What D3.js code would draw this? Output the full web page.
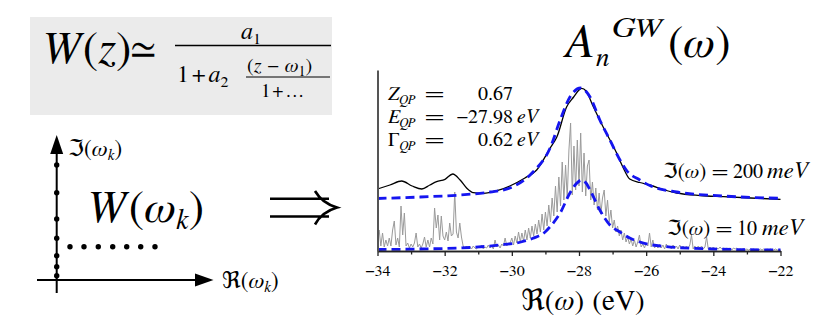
<!DOCTYPE html>
<html><head><meta charset="utf-8">
<script src="https://cdn.jsdelivr.net/npm/d3@7/dist/d3.min.js"></script>
</head><body style="margin:0">
<script>
// ---------- data ----------
const xMajorTicks = [-34, -32, -30, -28, -26, -24, -22];
const xMinorTicks = [-33, -31, -29, -27, -25, -23];
// A(omega) with Im(omega)=200 meV (black), arbitrary units
const spec200 = [[-34.00,62],[-33.63,66],[-33.28,70],[-32.97,65],[-32.68,62],[-32.44,66],[-32.24,69.3],[-31.99,71.7],[-31.76,77],[-31.54,71],[-31.34,62.7],[-31.15,58.3],[-30.85,57.7],[-30.44,60.3],[-30.06,65],[-29.61,73],[-29.26,81],[-28.86,103],[-28.66,114],[-28.37,144],[-28.16,154],[-28.00,161],[-27.92,162.7],[-27.79,160],[-27.57,144],[-27.28,124],[-26.88,98],[-26.68,83],[-26.49,72],[-26.19,68.5],[-25.89,66],[-25.45,61],[-25.09,58],[-24.40,55.5],[-23.70,54.3],[-22.89,53],[-22.00,51.7]];
// fitted quasiparticle (blue dashed), 200 meV
const fit200 = [[-34.0,52.5],[-32.73,54],[-31.54,56],[-30.65,59],[-30.06,63],[-29.37,79],[-28.86,103],[-28.56,131],[-28.27,154],[-27.95,163],[-27.67,154],[-27.38,131],[-27.08,111],[-26.78,91],[-26.57,80],[-26.19,71],[-25.89,65.5],[-25.09,59],[-23.71,55],[-22.0,52.7]];
// fitted quasiparticle (blue dashed), 10 meV
const fit10 = [[-34,1.5],[-32.73,2],[-31.25,3.5],[-30.35,6],[-29.73,9],[-29.37,12.7],[-29.01,19],[-28.86,24.3],[-28.56,38],[-28.27,58],[-28.09,67],[-27.92,71],[-27.79,68],[-27.67,61],[-27.38,41],[-27.08,26],[-26.78,19],[-26.49,13],[-26.19,9],[-25.45,4.5],[-24.0,2],[-22.0,1]];
// A(omega) with Im(omega)=10 meV (gray), sampled every 0.05 eV from -34
const grayStart = -34, grayStep = 0.05;
const spec10 = [8,21,5,18,4,11,5,13,5,21, 30,6,13,4,45,16,38,5,8,3, 7,4,8,18,4,7,3,7,14,4,
 11,4,13,7,43,23,36,11,35,15, 11,19,10,28,15,17,59,19,13,28, 14,5,3,5,2,4,2,5,3,2,
 5,3,6,2,4,3,6,3,5,2, 11,4,6,3,7,5,13,5,8,8, 13,6,15,8,19,9,18,10,21,11,
 23,13,25,15,27,17,31,19,37,21, 39,25,46,29,53,35,65,39,74,45, 89,51,86,53,101,128,56,105,61,111,
 65,118,59,98,55,85,91,51,69,46, 63,41,58,37,53,61,35,51,29,41, 23,31,19,25,15,21,11,18,9,14,
 7,12,5,11,4,9,16,4,7,3, 8,5,18,4,11,3,6,3,7,3, 6,2,7,3,5,2,6,3,5,2,
 6,3,5,2,5,3,6,16,2,5, 2,5,3,5,2,4,14,2,4,2, 4,2,3,2,4,2,3,1,3,2,
 3,1,3,2,3,1,2,1,3,1, 2,1,2,1,2,1,2,1,2,1, 2,1,2,1,2,1,1,2,1,1,1];
// diagram: imaginary-axis frequencies and real-axis points (arbitrary units)
const imagPts = [4.3, 13.3, 24.3, 41.7, 61, 87.3, 115];
const realPts = [13.3, 27.3, 41.6, 56, 70, 84, 98.3];
const realRowIm = 33.3;

// ---------- drawing ----------
const SERIF = '"FreeSerif", "Liberation Serif", serif';
const FRAK = '"DejaVu Sans"';
const svg = d3.select("body").append("svg").attr("width",831).attr("height",323).style("display","block");
svg.append("rect").attr("width",831).attr("height",323).attr("fill","#fff");

function txt(x,y,s,size,opt={}){
  const f = opt.family||SERIF;
  const t = svg.append("text").attr("x",x).attr("y",y).attr("font-size",size).attr("fill","#000")
    .attr("font-family",f).style("font-family",f).text(s);
  if(opt.italic) t.attr("font-style","italic");
  if(opt.anchor) t.attr("text-anchor",opt.anchor);
  if(opt.len) t.attr("textLength",opt.len).attr("lengthAdjust",opt.adj||"spacingAndGlyphs");
  return t;
}
function math(x,y,size,segs,opt={}){
  const t = svg.append("text").attr("x",x).attr("y",y).attr("font-size",size).attr("fill","#000")
    .attr("font-family",SERIF).style("font-family",SERIF);
  if(opt.anchor) t.attr("text-anchor",opt.anchor);
  segs.forEach(s=>{
    const sp = t.append("tspan").text(s.t);
    if(s.it) sp.attr("font-style","italic");
    if(s.s) sp.attr("font-size",s.s);
    if(s.dy) sp.attr("dy",s.dy);
    if(s.dx) sp.attr("dx",s.dx);
    if(s.f) sp.style("font-family",s.f);
  });
  return t;
}

// formula box
svg.append("rect").attr("x",30).attr("y",17).attr("width",302).attr("height",98).attr("fill","#ebebeb");
math(40,63,46,[{t:"W",it:1},{t:"(",dx:2},{t:"z",it:1},{t:")"}]);
txt(131,62,"≃",44);
math(241,39,24,[{t:"a",it:1},{t:"1",s:16,dy:5}]);
svg.append("line").attr("x1",175).attr("x2",331).attr("y1",45.5).attr("y2",45.5).attr("stroke","#000").attr("stroke-width",1.3);
math(177,82,24,[{t:"1"},{t:"+",dx:3},{t:"a",it:1,dx:3},{t:"2",s:16,dy:5}]);
math(247,72,20,[{t:"("},{t:"z",it:1},{t:"−",dx:6},{t:"ω",it:1,dx:6},{t:"1",s:14,dy:4},{t:")",dy:-4}]);
svg.append("line").attr("x1",246).attr("x2",330).attr("y1",77).attr("y2",77).attr("stroke","#000").attr("stroke-width",1);
math(261,97,19,[{t:"1"},{t:"+",dx:2},{t:"…",dx:2}]);

// left diagram
const dx = d3.scaleLinear().domain([0,160]).range([56.7,216.7]);
const dy = d3.scaleLinear().domain([0,145]).range([280,135]);
svg.append("line").attr("x1",dx(0)).attr("x2",dx(0)).attr("y1",293).attr("y2",150).attr("stroke","#000").attr("stroke-width",2);
svg.append("line").attr("x1",37).attr("x2",200).attr("y1",dy(0)).attr("y2",dy(0)).attr("stroke","#000").attr("stroke-width",2);
svg.append("path").attr("d",`M${dx(0)},135 L${dx(0)-6.5},154 L${dx(0)+6.5},154 Z`).attr("fill","#000");
svg.append("path").attr("d",`M213.5,${dy(0)} L195,${dy(0)-6.5} L195,${dy(0)+6.5} Z`).attr("fill","#000");
svg.selectAll(".imdot").data(imagPts).join("circle").attr("cx",dx(0)).attr("cy",d=>dy(d)).attr("r",2.7).attr("fill","#000");
svg.selectAll(".redot").data(realPts).join("circle").attr("cx",d=>dx(d)).attr("cy",dy(realRowIm)).attr("r",2.7).attr("fill","#000");
math(68,156,23,[{t:"ℑ",f:FRAK},{t:"("},{t:"ω",it:1},{t:"k",it:1,s:15,dy:4},{t:")",dy:-4}]);
math(222,288,23,[{t:"ℜ",f:FRAK},{t:"("},{t:"ω",it:1},{t:"k",it:1,s:15,dy:4},{t:")",dy:-4}]);
math(85,222,46,[{t:"W",it:1},{t:"(",dx:3},{t:"ω",it:1},{t:"k",it:1,s:28,dy:7},{t:")",dy:-7}]);
svg.append("path").attr("d","M270,198.8 H329 M270,216.5 H329 M315,191 Q322,203 337,207.6 Q322,212 315,224.5")
  .attr("fill","none").attr("stroke","#000").attr("stroke-width",2.6);

// title
txt(563,57,"A",48,{italic:true});
txt(596,66,"n",27,{italic:true});
txt(612,37,"GW",27,{italic:true,len:50});
math(668,57,46,[{t:"("},{t:"ω",it:1},{t:")"}]);

// plot
const x = d3.scaleLinear().domain([-34,-22]).range([377.5,780.5]);
const y = d3.scaleLinear().domain([0,181]).range([251,70]);
const line = d3.line().x(d=>x(d[0])).y(d=>y(d[1])).curve(d3.curveMonotoneX);
const grayData = spec10.map((v,i)=>[grayStart+i*grayStep, v]);

svg.append("path").datum(grayData).attr("d",d3.line().x(d=>x(d[0])).y(d=>y(d[1])))
  .attr("fill","none").attr("stroke","#9a9a9a").attr("stroke-width",1);
svg.append("path").datum(spec200).attr("d",line).attr("fill","none").attr("stroke","#000").attr("stroke-width",1.3);
const dashStyle = p => p.attr("fill","none").attr("stroke","#1515f0").attr("stroke-width",2.8).attr("stroke-dasharray","9,5");
svg.append("path").datum(fit200).attr("d",line).call(dashStyle);
svg.append("path").datum(fit10).attr("d",line).call(dashStyle);

// axes
const gx = svg.append("g").attr("transform","translate(0,251)");
gx.call(d3.axisBottom(x).tickValues(xMinorTicks).tickSize(3.5).tickSizeOuter(0).tickFormat(""));
const gx2 = svg.append("g").attr("transform","translate(0,251)");
gx2.call(d3.axisBottom(x).tickValues(xMajorTicks).tickSize(5).tickSizeOuter(0).tickPadding(9)
  .tickFormat(d=>"−"+Math.abs(d)));
[gx,gx2].forEach(g=>{g.selectAll("path,line").attr("stroke","#222").attr("stroke-width",1.3);});
gx2.attr("font-family",SERIF);
gx2.selectAll("text").style("font-family",SERIF).attr("font-size",16).attr("fill","#000");
const gy = svg.append("g").attr("transform","translate(377.5,0)");
gy.call(d3.axisLeft(y).tickValues([]).tickSizeOuter(0));
gy.select("path").attr("stroke","#555").attr("stroke-width",2);

math(583,310,29,[{t:"ℜ",f:FRAK},{t:"("},{t:"ω",it:1},{t:")"},{t:"(eV)",dx:8}],{anchor:"middle"});

// annotations
const rows = [{y:100,sym:"Z",it:true,val:"0.67",unit:""},{y:123,sym:"E",it:true,val:"−27.98",unit:"eV"},{y:145.5,sym:"Γ",it:false,val:"0.62",unit:"eV"}];
rows.forEach(r=>{
  math(388,r.y,20,[{t:r.sym,it:r.it},{t:"QP",it:1,s:13,dy:4}]);
  txt(425,r.y,"=",20,{len:19});
  txt(513,r.y,r.val,20,{anchor:"end"});
  if(r.unit) txt(517,r.y,r.unit,20,{italic:true});
});

math(663,178,21,[{t:"ℑ",f:FRAK},{t:"("},{t:"ω",it:1},{t:")"}]);
txt(712,178,"=",21,{len:16});
txt(733,178,"200",21,{len:30});
txt(767,178,"meV",23,{italic:true});
math(667,235,21,[{t:"ℑ",f:FRAK},{t:"("},{t:"ω",it:1},{t:")"}]);
txt(716,235,"=",21,{len:16});
txt(737,235,"10",21,{len:20});
txt(762,235,"meV",23,{italic:true});
</script>
</body></html>
